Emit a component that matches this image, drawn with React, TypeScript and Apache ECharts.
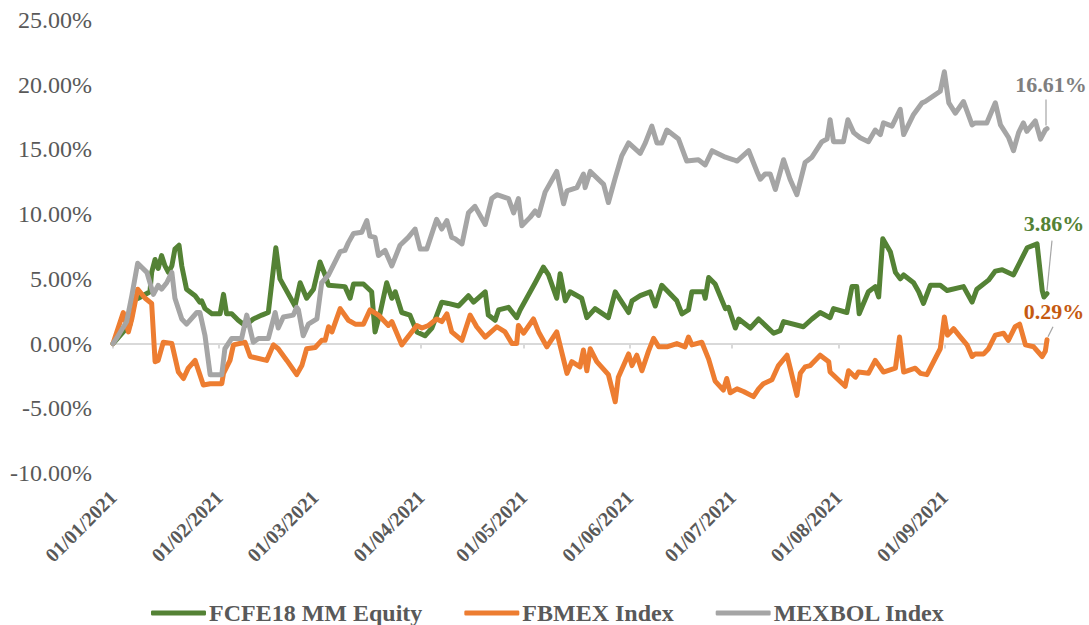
import React, { useEffect, useRef } from "react";
import * as echarts from "echarts";

// Day offsets from 01/01/2021 paired with cumulative returns (%)
const fcfe: [number, number][] = [[0,0],[5,1.5],[6.4,3.4],[7.4,3.5],[10.8,4.0],[11.3,5.5],[12.3,6.5],[13.2,5.8],[14.2,6.8],[15.2,6.0],[16.2,5.5],[17.2,6.0],[18.1,7.3],[19.3,7.6],[20.1,6.0],[21.5,4.2],[24,3.7],[25.4,3.2],[25.9,3.3],[26.9,2.7],[28.9,2.3],[31.3,2.3],[32.3,3.8],[33.2,2.3],[34.7,2.3],[36.6,1.8],[38.6,1.4],[41,1.9],[43.5,2.2],[45.4,2.4],[47.6,7.4],[48.8,5.0],[53.2,2.9],[54.7,4.7],[56.6,3.5],[58.6,4.2],[60.5,6.3],[62,5.3],[63,4.5],[67.8,4.4],[69.3,3.5],[70.3,4.6],[73.2,4.6],[75.6,4.0],[76.6,0.9],[78.1,2.4],[80,4.7],[81.5,3.5],[82.5,4.0],[84.4,2.4],[86.8,2.2],[88.8,0.9],[91.2,0.6],[93.2,1.2],[96.1,3.2],[98,3.1],[101,2.9],[103.9,3.7],[105.4,3.2],[108.8,4.0],[109.7,2.2],[111.7,1.8],[112.7,2.6],[115.6,2.8],[118,2.0],[119,2.6],[123.4,4.7],[125.8,5.9],[127.3,5.3],[129.7,3.5],[130.7,5.4],[132.2,3.3],[133.6,4.0],[137,3.5],[138.5,2.0],[140.9,2.7],[144.8,2.0],[146.8,4.0],[150.7,2.4],[151.7,3.3],[154.1,3.7],[157,4.0],[158.5,2.9],[160.4,4.5],[164.8,3.3],[166.3,2.3],[168.2,2.6],[169.2,4.0],[172.6,4.0],[173.1,3.5],[174.1,5.1],[176,4.6],[179,2.7],[179.9,2.8],[181.9,1.2],[182.9,1.9],[186.3,1.2],[188.7,1.9],[193.1,0.8],[195,1.0],[196,1.7],[201.8,1.3],[204.3,1.9],[206.7,2.4],[209.6,2.0],[210.6,2.7],[214.5,2.4],[216,4.4],[217.4,4.4],[218.1,2.3],[220.8,4.0],[222.8,4.4],[223.8,3.6],[225,8.1],[227.2,7.1],[228.7,5.5],[230.1,5.0],[231.1,5.3],[234,4.7],[235.5,4.0],[236.9,3.1],[238.9,4.5],[241.8,4.5],[243.8,4.1],[248.6,4.4],[251.1,3.2],[252.5,4.2],[255.9,4.9],[257.9,5.6],[259.9,5.7],[263.2,5.3],[267.2,7.4],[270.1,7.7],[271.6,4.1],[272.1,3.6],[273,3.86]];

const fbmex: [number, number][] = [[0,0],[3,2.4],[4.5,0.9],[5.5,1.9],[7.2,4.2],[9.4,3.5],[11.3,3.1],[12.3,-1.4],[13.2,-1.3],[14.7,0.1],[17.2,0],[19.1,-2.2],[20.6,-2.7],[22,-1.9],[24,-1.3],[26.4,-3.2],[28.4,-3.1],[31.8,-3.1],[32.3,-2.3],[34.2,-1.3],[35.2,-0.1],[38.6,0.1],[40.1,-1.0],[44.9,-1.3],[46.9,-0.1],[48.3,-0.4],[50.8,-1.3],[53.7,-2.4],[55.2,-1.7],[56.6,-0.4],[59.1,-0.3],[61,0.25],[62,0.25],[63,1.3],[64,0.9],[66.4,2.7],[68.8,1.8],[70.8,1.5],[73.2,1.5],[75.1,2.6],[77.6,2.2],[80.5,1.4],[81.5,1.7],[84.4,-0.1],[88.8,1.4],[90.3,1.2],[92.2,1.4],[94.6,1.9],[96.1,1.7],[97.6,2.3],[99,0.9],[102,0.25],[104.4,2.2],[106.3,1.3],[108.8,0.5],[112.2,1.3],[114.6,0.9],[116.6,0],[118,0],[118.5,1.4],[120,0.8],[122.9,1.9],[124.4,0.9],[126.8,-0.25],[129.7,0.9],[132.7,-2.3],[134.1,-1.4],[136.5,-1.8],[137.5,-0.5],[138.5,-2.1],[139.5,-0.4],[141.4,-1.4],[144.8,-2.4],[146.8,-4.5],[147.7,-2.6],[150.7,-0.8],[151.7,-1.7],[153.1,-0.9],[154.6,-2.1],[156.5,-0.6],[158,0.4],[159.5,-0.25],[161.9,-0.25],[164.8,0],[167.2,-0.25],[168.2,0.5],[169.2,-0.1],[172.1,0.1],[174.1,-1.2],[176,-2.9],[178.4,-3.6],[179.4,-2.7],[180.4,-3.8],[182.4,-3.5],[184.3,-3.7],[187.2,-4.1],[188.7,-3.5],[190.1,-3.1],[192.6,-2.8],[194.5,-1.7],[197,-0.9],[199.9,-4.0],[200.9,-2.3],[202.3,-1.8],[203.8,-1.7],[206.7,-0.9],[209.2,-1.4],[209.6,-2.2],[214,-3.3],[215,-2.1],[217,-2.6],[217.9,-2.2],[220.8,-2.3],[222.8,-1.3],[225.2,-2.2],[228.7,-1.9],[229.9,0.5],[231.1,-2.2],[234.5,-1.9],[236,-2.3],[237.9,-2.4],[241.8,-0.4],[243,2.05],[243.9,0.65],[245.7,1.15],[247.7,0.5],[249.6,-0.1],[251.1,-1.0],[252,-0.8],[254.5,-0.8],[255.9,-0.4],[257.9,0.65],[260.3,0.8],[261.7,0.25],[263.7,1.3],[265,1.5],[266.7,-0.1],[269.1,-0.25],[271.6,-1.0],[272.5,-0.6],[273,0.29]];

const mexbol: [number, number][] = [[0,0],[1.5,0.6],[4,1.7],[5.5,3.7],[7.2,6.2],[9.9,5.5],[11.8,3.8],[13.2,4.5],[14.2,4.2],[15.7,4.7],[17.2,5.5],[18.1,3.5],[20.1,1.9],[21.5,1.5],[24.5,2.4],[25.4,2.4],[26.9,0.6],[28.4,-2.4],[31.8,-2.4],[32.7,-0.4],[34.7,0.4],[37.6,0.4],[39.1,2.2],[41,0.1],[42.5,0.4],[45.4,0.4],[47.4,2.4],[48.3,1.2],[49.8,2.05],[52.7,2.2],[53.7,2.8],[54.2,2.6],[55.6,0.6],[57.1,1.5],[59.6,1.9],[61,4.7],[63,5.3],[66.4,7.1],[67.8,7.2],[68.8,7.8],[70.3,8.5],[72.7,8.6],[74.2,9.5],[75.1,8.3],[76.6,8.2],[77.6,6.8],[79.5,7.2],[81.5,6.0],[83.9,7.6],[86.3,8.2],[88.3,8.85],[89.8,7.3],[91.7,7.3],[94.6,9.6],[96.1,8.85],[97.6,9.5],[99,8.2],[100,8.1],[102,7.7],[103.9,10.1],[105.8,10.6],[108.8,9.2],[110.7,11.2],[112.2,11.5],[115.6,11.2],[117.1,10.1],[118.5,11.2],[119.5,9.1],[121.9,9.75],[123.4,10.25],[124.4,9.9],[126.3,11.7],[129.7,13.3],[131.7,10.8],[132.7,11.8],[135.6,12.05],[137.5,13.1],[138,12.05],[139.5,13.3],[143.4,12.3],[144.8,10.9],[146.8,12.8],[148.7,14.5],[150.7,15.5],[154.1,14.7],[155.6,15.5],[157.5,16.8],[159,15.5],[160.4,15.5],[161.9,16.5],[165.3,15.8],[167.7,14.1],[171.1,14.2],[173.1,13.8],[175.1,14.9],[179,14.4],[181.4,14.2],[182.4,14.1],[185.8,14.9],[188.2,13.3],[189.2,12.7],[190.6,13.1],[192.1,13.1],[193.6,11.9],[196,14.2],[197.9,12.7],[199.9,11.5],[202.3,14.0],[204.3,14.4],[207.2,15.6],[208.7,15.8],[209.6,17.3],[210.6,15.6],[213.5,15.6],[214.8,17.3],[216.5,16.3],[218.4,15.9],[220.8,15.6],[222.8,16.5],[224.3,16.15],[225.2,17.05],[227.7,16.8],[230.1,18.1],[231.1,16.15],[234,17.7],[236.5,18.6],[237.4,18.7],[241.8,19.5],[243,21.0],[244.3,18.6],[246.2,17.8],[248.6,18.7],[251.1,16.9],[252,17.05],[255.4,17.05],[257.9,18.6],[259.4,16.9],[261.8,15.9],[263.2,14.9],[264.7,16.3],[266.1,17.05],[267.1,16.4],[269.6,17.2],[271.1,15.8],[272.5,16.5],[273,16.61]];

const seriesNames = ["FCFE18 MM Equity", "FBMEX Index", "MEXBOL Index"];
const seriesColors = ["#548235", "#ED7D31", "#A5A5A5"];
const endLabelColors = ["#548235", "#C55A11", "#7F7F7F"];
const tickLabels = ["01/01/2021", "01/02/2021", "01/03/2021", "01/04/2021", "01/05/2021", "01/06/2021", "01/07/2021", "01/08/2021", "01/09/2021"];
const startDate = "01/01/2021";
const endDate = "01/10/2021";

const FONT = '"Liberation Serif", "Times New Roman", serif';
const DAY_MS = 86400000;

function parseDMY(s: string): number {
  const [d, m, y] = s.split("/").map(Number);
  return Date.UTC(y, m - 1, d);
}
function fmtDMY(ts: number): string {
  const dt = new Date(ts);
  const p = (n: number) => String(n).padStart(2, "0");
  return `${p(dt.getUTCDate())}/${p(dt.getUTCMonth() + 1)}/${dt.getUTCFullYear()}`;
}

export default function App() {
  const ref = useRef<HTMLDivElement>(null);
  useEffect(() => {
    if (!ref.current) return;
    const chart = echarts.init(ref.current, undefined, { renderer: "svg" });
    const start = parseDMY(startDate);
    const endDay = Math.round((parseDMY(endDate) - start) / DAY_MS);
    const tickDays = tickLabels.map((t) => Math.round((parseDMY(t) - start) / DAY_MS));
    const allData = [fcfe, fbmex, mexbol];
    const dayLabel = (v: number) => fmtDMY(start + v * DAY_MS);

    chart.setOption({
      animation: false,
      grid: { left: 113, right: 42, top: 20, bottom: 152 },
      legend: {
        data: seriesNames,
        left: 146,
        top: 596,
        icon: "roundRect",
        itemWidth: 55,
        itemHeight: 5,
        itemGap: 42,
        textStyle: { fontFamily: FONT, fontSize: 24, fontWeight: "bold", color: "#595959", padding: [0, 0, 0, -2] },
      },
      xAxis: [
        {
          type: "value",
          min: 0,
          max: endDay,
          axisLine: { onZero: true, lineStyle: { color: "#D9D9D9", width: 2 } },
          axisTick: { show: true, customValues: tickDays, length: 5, lineStyle: { color: "#D9D9D9", width: 2 } },
          axisLabel: { show: false, customValues: tickDays },
          splitLine: { show: false },
        },
        {
          type: "value",
          min: 0,
          max: endDay,
          position: "bottom",
          axisLine: { show: false, onZero: false },
          axisTick: { show: false, customValues: tickDays },
          splitLine: { show: false },
          axisLabel: {
            customValues: tickDays,
            rotate: 45,
            margin: 21,
            fontFamily: FONT,
            fontSize: 20,
            fontWeight: "bold",
            color: "#595959",
            formatter: (v: number) => dayLabel(v),
          },
        },
      ],
      yAxis: {
        type: "value",
        min: -10,
        max: 25,
        interval: 5,
        axisLine: { show: false },
        axisTick: { show: false },
        splitLine: { show: false },
        axisLabel: {
          margin: 21,
          fontFamily: FONT,
          fontSize: 24,
          color: "#595959",
          formatter: (v: number) => v.toFixed(2) + "%",
        },
      },
      series: seriesNames.map((name, i) => ({
        name,
        type: "line",
        xAxisIndex: 0,
        data: allData[i],
        showSymbol: false,
        symbol: "none",
        color: seriesColors[i],
        lineStyle: { width: 5, color: seriesColors[i], cap: "round", join: "round" },
        z: 2 + i,
      })),
    });

    const offsets = [
      { tx: 7, ty: -70, l1: [5, -53], l2: [0, -3] },
      { tx: 7, ty: -28, l1: [6, -13], l2: [1, -3] },
      { tx: 4, ty: -44, l1: [-1, -29], l2: [-1, -3] },
    ];
    const graphics: any[] = [];
    allData.forEach((d, i) => {
      const last = d[d.length - 1];
      const p = chart.convertToPixel({ xAxisIndex: 0, yAxisIndex: 0 }, last as any) as number[];
      const o = offsets[i];
      graphics.push({
        type: "line",
        shape: { x1: p[0] + o.l1[0], y1: p[1] + o.l1[1], x2: p[0] + o.l2[0], y2: p[1] + o.l2[1] },
        style: { stroke: "#A5A5A5", lineWidth: 1.2 },
        z: 10,
      });
      graphics.push({
        type: "text",
        x: p[0] + o.tx,
        y: p[1] + o.ty,
        style: {
          text: last[1].toFixed(2) + "%",
          fill: endLabelColors[i],
          fontFamily: FONT,
          fontSize: 22,
          fontWeight: "bold",
          align: "center",
          verticalAlign: "middle",
        },
        z: 10,
      });
    });
    chart.setOption({ graphic: graphics });

    return () => chart.dispose();
  }, []);

  return <div ref={ref} style={{ position: "absolute", left: 0, top: 0, width: 1089, height: 625 }} />;
}
